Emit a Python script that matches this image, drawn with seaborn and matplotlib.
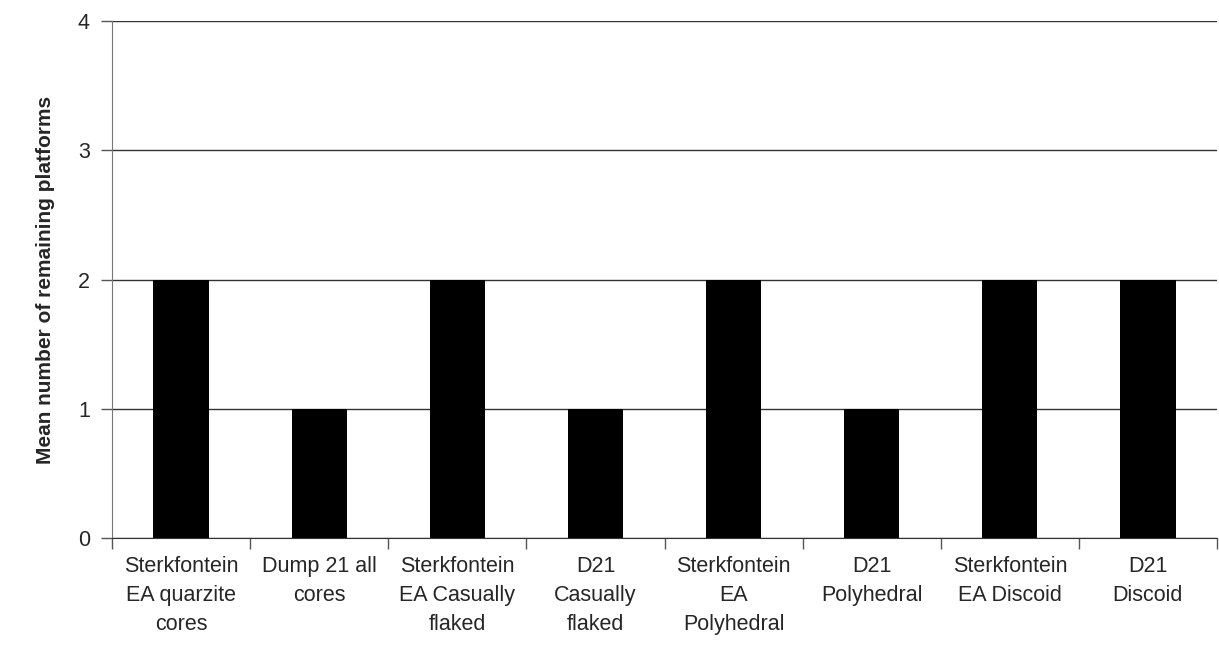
import numpy as np
import pandas as pd
import matplotlib
matplotlib.use("Agg")
import matplotlib.pyplot as plt
import seaborn as sns

# datos
categorias = [
    "Sterkfontein\nEA quarzite\ncores",
    "Dump 21 all\ncores",
    "Sterkfontein\nEA Casually\nflaked",
    "D21\nCasually\nflaked",
    "Sterkfontein\nEA\nPolyhedral",
    "D21\nPolyhedral",
    "Sterkfontein\nEA Discoid",
    "D21\nDiscoid",
]
valores = [2, 1, 2, 1, 2, 1, 2, 2]
y_ticks = [0, 1, 2, 3, 4]

df = pd.DataFrame({"cat": categorias, "val": valores})

sns.set_style("white")
plt.rcParams["font.family"] = ["Liberation Sans", "DejaVu Sans"]

fig = plt.figure(figsize=(12.19, 6.51), dpi=100)
ax = fig.add_axes([112 / 1219, 1 - 538 / 651, (1217 - 112) / 1219, (538 - 21) / 651])

sns.barplot(data=df, x="cat", y="val", color="black", width=0.4,
            saturation=1, linewidth=0, ax=ax, zorder=3)

ax.set_ylim(0, 4)
ax.set_xlim(-0.5, len(categorias) - 0.5)
ax.set_yticks(y_ticks)
ax.set_yticklabels([str(t) for t in y_ticks], fontsize=15.5)
ax.yaxis.grid(True, color="#333333", linewidth=1, zorder=0)
ax.set_axisbelow(True)

# ticks entre categorías (estilo Excel)
ax.set_xticks(np.arange(len(categorias)))
ax.set_xticklabels(categorias, fontsize=15.5, linespacing=1.5)
ax.tick_params(axis="x", which="major", length=0, pad=13)
ax.set_xticks(np.arange(-0.5, len(categorias)), minor=True)
ax.tick_params(axis="x", which="minor", length=8, width=1, color="#555555",
               direction="out", bottom=True)
ax.tick_params(axis="y", length=8, width=1, color="#555555", direction="out",
               left=True, pad=8)

for s in ["top", "right"]:
    ax.spines[s].set_visible(False)
ax.spines["left"].set_color("#777777")
ax.spines["bottom"].set_color("#333333")

ax.set_xlabel("")
ax.set_ylabel("Mean number of remaining platforms", fontsize=15,
              fontweight="bold", labelpad=16)

fig.savefig("out.png", dpi=100)
